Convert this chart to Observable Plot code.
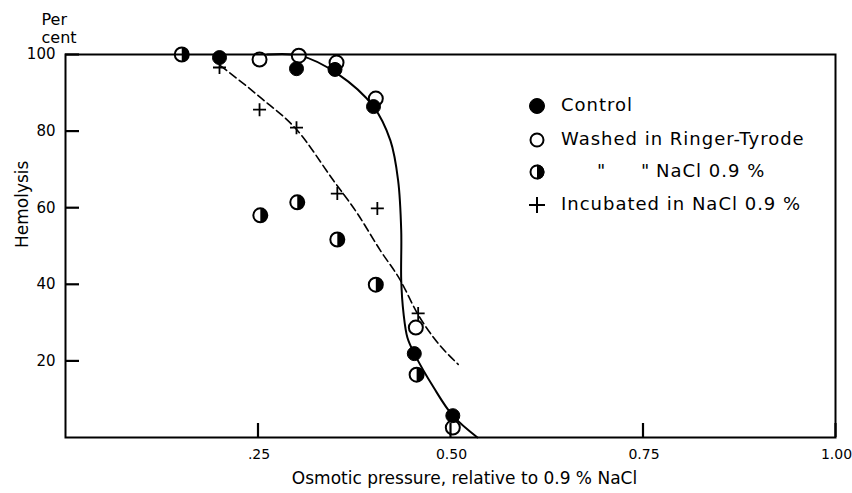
<!DOCTYPE html>
<html>
<head>
<meta charset="utf-8">
<script src="https://cdn.jsdelivr.net/npm/d3@7"></script>
<script src="https://cdn.jsdelivr.net/npm/@observablehq/plot@0.6"></script>
<style>
  body { margin: 0; background: #fff; }
  #wrap { position: relative; width: 852px; height: 493px; font-family: "DejaVu Sans", sans-serif; color: #000; }
  #wrap > svg { display: block; }
  .lg { position: absolute; font-size: 18px; letter-spacing: 1px; white-space: pre; line-height: 1; }
  .sym { position: absolute; }
</style>
</head>
<body>
<div id="wrap"></div>
<script>
// ---- data ----
const xTicks = [0.25, 0.5, 0.75, 1.0];
const xTickLabels = [".25", "0.50", "0.75", "1.00"];
const yTicks = [20, 40, 60, 80, 100];
const xLabel = "Osmotic pressure, relative to 0.9 % NaCl";
const yLabel = "Hemolysis";
const yUnitTop = "Per";
const yUnitBottom = "cent";

const seriesNames = ["Control", "Washed in Ringer-Tyrode", "NaCl 0.9 %", "Incubated in NaCl 0.9 %"];

const controlX = [0.20, 0.30, 0.35, 0.40, 0.453, 0.503];
const controlY = [99.2, 96.3, 96.1, 86.4, 21.9, 5.7];

const washedRTX = [0.252, 0.303, 0.352, 0.403, 0.455, 0.503];
const washedRTY = [98.7, 99.7, 97.9, 88.5, 28.7, 2.6];

const washedNaClX = [0.151, 0.253, 0.301, 0.353, 0.403, 0.456];
const washedNaClY = [100, 58.0, 61.4, 51.7, 39.9, 16.4];

const incubatedX = [0.20, 0.252, 0.30, 0.353, 0.405, 0.458];
const incubatedY = [96.6, 85.6, 80.9, 63.7, 59.8, 32.4];

// fitted curves as drawn in the figure
const controlCurveX = [0.262, 0.305, 0.353, 0.40, 0.422, 0.432, 0.436, 0.436, 0.439, 0.444, 0.453, 0.478, 0.503, 0.535];
const controlCurveY = [100, 99.7, 95.0, 86.4, 77.5, 67.1, 54.0, 41.0, 32.4, 26.1, 21.9, 13.1, 5.7, 0];

const incubCurveX = [0.201, 0.253, 0.301, 0.348, 0.379, 0.409, 0.435, 0.457, 0.478, 0.510];
const incubCurveY = [97.1, 88.8, 80.2, 67.1, 58.5, 48.8, 41.0, 32.4, 26.1, 19.1];

// ---- build ----
const zip = (xs, ys) => xs.map((x, i) => ({x, y: ys[i]}));
const control = zip(controlX, controlY);
const washedRT = zip(washedRTX, washedRTY);
const washedNaCl = zip(washedNaClX, washedNaClY);
const incubated = zip(incubatedX, incubatedY);
const controlCurve = zip(controlCurveX, controlCurveY);
const incubCurve = zip(incubCurveX, incubCurveY);

const halfRight = {
  draw(ctx, size) {
    const r = Math.sqrt(size / Math.PI);
    ctx.moveTo(0, -r);
    ctx.arc(0, 0, r, -Math.PI / 2, Math.PI / 2);
    ctx.closePath();
  }
};
const plusSym = {
  draw(ctx, size) {
    const r = Math.sqrt(size / Math.PI);
    ctx.moveTo(-r, 0); ctx.lineTo(r, 0);
    ctx.moveTo(0, -r); ctx.lineTo(0, r);
  }
};

const W = 852, H = 493, mL = 65, mR = 17, mT = 54, mB = 56, tick = 14;
const frameW = W - mL - mR, frameH = H - mT - mB;

const plot = Plot.plot({
  width: W,
  height: H,
  marginLeft: mL,
  marginRight: mR,
  marginTop: mT,
  marginBottom: mB,
  x: {domain: [0, 1]},
  y: {domain: [0, 100]},
  style: {fontFamily: "DejaVu Sans, sans-serif", background: "white", color: "black"},
  marks: [
    Plot.line(controlCurve, {x: "x", y: "y", curve: "catmull-rom", stroke: "black", strokeWidth: 2}),
    Plot.line(incubCurve, {x: "x", y: "y", curve: "monotone-x", stroke: "black", strokeWidth: 1.6, strokeDasharray: "8,4"}),
    Plot.dot(washedRT, {x: "x", y: "y", r: 7, fill: "white", stroke: "black", strokeWidth: 2}),
    Plot.dot(washedNaCl, {x: "x", y: "y", r: 7, fill: "white", stroke: "black", strokeWidth: 2}),
    Plot.dot(washedNaCl, {x: "x", y: "y", r: 7, symbol: halfRight, fill: "black", stroke: "none"}),
    Plot.dot(control, {x: "x", y: "y", r: 7, fill: "black", stroke: "black", strokeWidth: 1}),
    Plot.dot(incubated, {x: "x", y: "y", r: 6.5, symbol: plusSym, fill: "none", stroke: "black", strokeWidth: 1.8}),
    Plot.frame({stroke: "black", strokeWidth: 2}),
    // inward ticks
    Plot.tickX(xTicks, {x: d => d, insetTop: frameH - tick, stroke: "black", strokeWidth: 2.2}),
    Plot.tickY(yTicks, {y: d => d, insetRight: frameW - tick, stroke: "black", strokeWidth: 2.2}),
    Plot.axisX(xTicks, {
      tickSize: 0, tickPadding: 12, fontSize: 14, dx: 1, label: null,
      tickFormat: d => xTickLabels[xTicks.indexOf(d)]
    }),
    Plot.axisY(yTicks, {
      tickSize: 0, tickPadding: 10, fontSize: 15, label: null,
      tickFormat: d => String(d)
    }),
    Plot.text([xLabel], {text: d => d, lineAnchor: "middle", frameAnchor: "bottom", dy: 41, dx: 14, fontSize: 17, letterSpacing: "0.5px"}),
    Plot.text([yLabel], {text: d => d, lineAnchor: "middle", frameAnchor: "left", rotate: -90, dx: -43, dy: 2, fontSize: 17, letterSpacing: "0.5px"}),
    Plot.text([yUnitTop], {text: d => d, lineAnchor: "middle", frameAnchor: "top-left", dx: -24, dy: -35, fontSize: 16}),
    Plot.text([yUnitBottom], {text: d => d, lineAnchor: "middle", frameAnchor: "top-left", dx: -24, dy: -17, fontSize: 16})
  ]
});

const wrap = document.getElementById("wrap");
wrap.appendChild(plot);

// ---- legend overlay ----
function symSvg(kind) {
  const s = 18, c = 9, r = 7.5;
  let inner = "";
  if (kind === "filled") inner = `<circle cx="${c}" cy="${c}" r="${r}" fill="black" stroke="black"/>`;
  else if (kind === "open") inner = `<circle cx="${c}" cy="${c}" r="${r - 1}" fill="white" stroke="black" stroke-width="2"/>`;
  else if (kind === "half") inner = `<circle cx="${c}" cy="${c}" r="${r - 1}" fill="white" stroke="black" stroke-width="2"/><path d="M${c},${c - r} A${r},${r} 0 0 1 ${c},${c + r} Z" fill="black"/>`;
  else inner = `<path d="M${c - 8},${c} H${c + 8} M${c},${c - 8} V${c + 8}" stroke="black" stroke-width="2"/>`;
  return `<svg width="${s}" height="${s}" viewBox="0 0 ${s} ${s}">${inner}</svg>`;
}
const kinds = ["filled", "open", "half", "plus"];
const rowY = [106, 140, 172, 205];
const symX = 537, textX = 561;
kinds.forEach((k, i) => {
  const d = document.createElement("div");
  d.className = "sym";
  d.style.left = (symX - 9) + "px";
  d.style.top = (rowY[i] - 9) + "px";
  d.innerHTML = symSvg(k);
  wrap.appendChild(d);
});
function addText(s, left, cy) {
  const t = document.createElement("div");
  t.className = "lg";
  t.textContent = s;
  t.style.left = left + "px";
  t.style.top = (cy - 10) + "px";
  wrap.appendChild(t);
}
addText(seriesNames[0], textX, rowY[0]);
addText(seriesNames[1], textX, rowY[1]);
addText("\"", 597, rowY[2]);
addText("\"", 641, rowY[2]);
addText(seriesNames[2], 656, rowY[2]);
addText(seriesNames[3], textX, rowY[3]);
</script>
</body>
</html>
